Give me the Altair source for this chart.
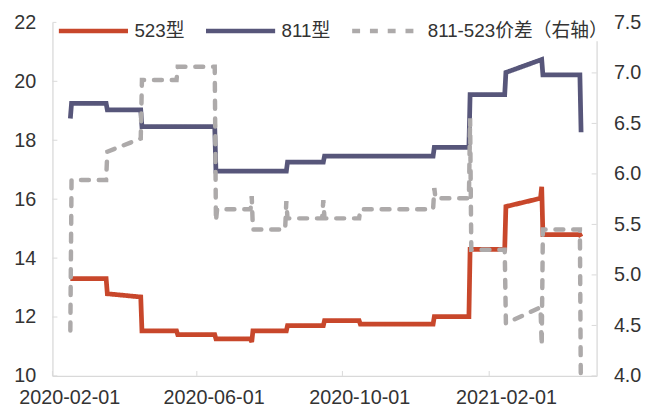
import altair as alt
import pandas as pd

# ---------------- data ----------------
series_names = ["523型", "811型", "811-523价差（右轴）"]
series_colors = ["#C8472B", "#57567A", "#ADAAAA"]

dates_523 = ["2020-02-16", "2020-03-17", "2020-03-18", "2020-04-15", "2020-04-16",
             "2020-05-15", "2020-05-16", "2020-06-16", "2020-06-17", "2020-07-16",
             "2020-07-17", "2020-07-18", "2020-08-15", "2020-08-16", "2020-09-15",
             "2020-09-16", "2020-10-15", "2020-10-16", "2020-12-16", "2020-12-17",
             "2021-01-15", "2021-01-16", "2021-02-14", "2021-02-15", "2021-03-16",
             "2021-03-17", "2021-03-18", "2021-04-18", "2021-04-19"]
vals_523 = [13.30, 13.30, 12.79, 12.68, 11.53,
            11.53, 11.40, 11.40, 11.26, 11.26,
            11.15, 11.53, 11.53, 11.71, 11.71,
            11.88, 11.88, 11.76, 11.76, 12.01,
            12.01, 14.30, 14.30, 15.75, 16.03,
            16.42, 14.80, 14.80, 14.72]

dates_811 = ["2020-02-16", "2020-02-17", "2020-03-17", "2020-03-18", "2020-04-15",
             "2020-04-16", "2020-06-16", "2020-06-17", "2020-08-15", "2020-08-16",
             "2020-09-15", "2020-09-16", "2020-12-16", "2020-12-17", "2021-01-15",
             "2021-01-16", "2021-02-14", "2021-02-15", "2021-03-17", "2021-03-18",
             "2021-04-18", "2021-04-19"]
vals_811 = [18.74, 19.25, 19.25, 19.03, 19.03,
            18.46, 18.46, 16.95, 16.95, 17.26,
            17.26, 17.46, 17.46, 17.76, 17.76,
            19.55, 19.55, 20.30, 20.74, 20.22,
            20.22, 18.27]

dates_spread = ["2020-02-16", "2020-02-17", "2020-03-17", "2020-03-18", "2020-04-15",
                "2020-04-16", "2020-05-15", "2020-05-16", "2020-06-16", "2020-06-17",
                "2020-06-18", "2020-07-16", "2020-07-17", "2020-07-18", "2020-08-14",
                "2020-08-15", "2020-08-16", "2020-09-14", "2020-09-15", "2020-09-16",
                "2020-10-15", "2020-10-16", "2020-12-16", "2020-12-17", "2020-12-18",
                "2021-01-15", "2021-01-16", "2021-01-17", "2021-02-14", "2021-02-15",
                "2021-03-16", "2021-03-17", "2021-03-18", "2021-04-18", "2021-04-19"]
vals_spread = [4.45, 5.94, 5.94, 6.22, 6.35,
               6.93, 6.93, 7.06, 7.06, 5.53,
               5.65, 5.65, 5.78, 5.45, 5.45,
               5.73, 5.56, 5.56, 5.74, 5.56,
               5.56, 5.65, 5.65, 5.86, 5.76,
               5.76, 6.55, 5.25, 5.25, 4.52,
               4.68, 4.30, 5.45, 5.45, 3.50]

left_ticks = [10, 12, 14, 16, 18, 20, 22]
right_ticks = [4.0, 4.5, 5.0, 5.5, 6.0, 6.5, 7.0, 7.5]
x_tick_dates = ["2020-02-01", "2020-06-01", "2020-10-01", "2021-02-01"]
x_domain = ["2020-02-01", "2021-05-02"]

# ---------------- tables ----------------
df_left = pd.concat([
    pd.DataFrame({"date": dates_523, "value": vals_523, "series": series_names[0]}),
    pd.DataFrame({"date": dates_811, "value": vals_811, "series": series_names[1]}),
], ignore_index=True)
df_right = pd.DataFrame({"date": dates_spread, "value": vals_spread, "series": series_names[2]})
df_lt = pd.DataFrame({"value": left_ticks})
df_rt = pd.DataFrame({"value": right_ticks})
df_xt = pd.DataFrame({"date": x_tick_dates})

W, H = 551, 358
FONT = "Liberation Sans, Arial, 'Noto Sans CJK SC'"
TXT = "#333333"
AX = "#D9D9D9"


def dt(s):
    y, m, d = map(int, s.split("-"))
    return alt.DateTime(year=y, month=m, date=d, utc=True)


x_axis = alt.Axis(values=[dt(s) for s in x_tick_dates],
                  labelExpr="utcFormat(datum.value, '%Y-%m-%d')",
                  title=None, tickSize=0, labelOffset=17, labelPadding=12,
                  labelFlush=False, labelOverlap=False, grid=False)
x_scale = alt.Scale(type="utc", domain=[dt(s) for s in x_domain])
xenc = alt.X("date:T", scale=x_scale, axis=x_axis)

left_scale = alt.Scale(domain=[10, 22], nice=False, zero=False)
right_scale = alt.Scale(domain=[4.0, 7.5], nice=False, zero=False)
left_axis = alt.Axis(values=left_ticks, title=None, tickSize=0, labelPadding=17,
                     grid=False, orient="left")
right_axis = alt.Axis(values=right_ticks, format=".1f", title=None, tickSize=0,
                      labelPadding=17, grid=False, orient="right")

color_enc = alt.Color("series:N", scale=alt.Scale(domain=series_names, range=series_colors),
                      legend=alt.Legend(title=None))
dash_enc = alt.StrokeDash("series:N",
                          scale=alt.Scale(domain=series_names, range=[[1, 0], [1, 0], [8, 10]]),
                          legend=alt.Legend(title=None))

left_lines = alt.Chart(df_left).mark_line(strokeWidth=4.8, clip=True).encode(
    x=xenc,
    y=alt.Y("value:Q", scale=left_scale, axis=left_axis),
    color=color_enc,
    strokeDash=dash_enc,
)
left_tick_marks = alt.Chart(df_lt).mark_rule(color=AX, strokeWidth=1).encode(
    y=alt.Y("value:Q", scale=left_scale, axis=left_axis),
    x=alt.value(0), x2=alt.value(5),
)
bottom_tick_marks = alt.Chart(df_xt).mark_rule(color=AX, strokeWidth=1).encode(
    x=xenc,
    y=alt.value(H - 5), y2=alt.value(H),
)

right_line = alt.Chart(df_right).mark_line(strokeWidth=4.5, strokeCap="round", clip=True).encode(
    x=xenc,
    y=alt.Y("value:Q", scale=right_scale, axis=right_axis),
    color=color_enc,
    strokeDash=dash_enc,
)
right_tick_marks = alt.Chart(df_rt).mark_rule(color=AX, strokeWidth=1).encode(
    y=alt.Y("value:Q", scale=right_scale, axis=right_axis),
    x=alt.value(W - 5), x2=alt.value(W),
)

left_group = alt.layer(left_tick_marks, bottom_tick_marks, left_lines)
right_group = alt.layer(right_tick_marks, right_line)

chart = alt.layer(left_group, right_group).resolve_scale(y="independent").properties(
    width=W, height=H,
    autosize=alt.AutoSizeParams(type="none"),
    padding={"left": 45, "top": 12, "right": 48, "bottom": 40},
).configure_view(stroke=None).configure_axis(
    labelFont=FONT, labelFontSize=20, labelColor=TXT, domainColor=AX, domainWidth=1.3,
).configure_legend(
    orient="none", legendX=4, legendY=-29, direction="horizontal",
    symbolType="stroke", symbolSize=4900, symbolStrokeWidth=4.5,
    labelFont=FONT, labelFontSize=19, labelColor=TXT, labelOffset=4,
    columnPadding=12, labelLimit=400, padding=0, fillColor="white", zindex=1,
)

chart.save("out.html", embed_options={"renderer": "svg", "actions": False})
